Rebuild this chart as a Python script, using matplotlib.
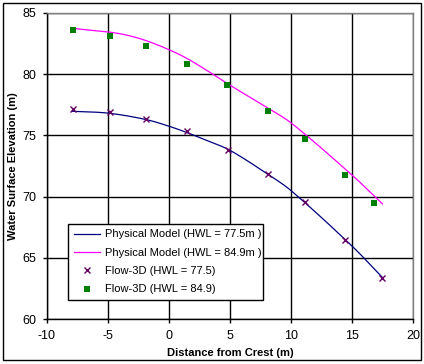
import numpy as np
import matplotlib
matplotlib.use("Agg")
import matplotlib.pyplot as plt
from matplotlib.patches import Rectangle

plt.rcParams['font.family'] = ['Liberation Sans', 'DejaVu Sans']

# Physical model curves
phys_x_775 = [-7.96, -5.0, -1.9, 0.0, 1.5, 3.06, 5.0, 8.14, 10.05, 15.0, 17.48]
phys_775 = [76.97, 76.82, 76.30, 75.75, 75.22, 74.6, 73.78, 71.8, 70.45, 65.96, 63.41]
phys_x_849 = [-7.96, -4.97, -3.5, -1.89, 0.0, 1.45, 3.36, 5.0, 8.14, 10.05, 15.0, 17.5]
phys_849 = [83.75, 83.45, 83.2, 82.75, 82.0, 81.3, 80.15, 79.1, 77.21, 75.99, 71.76, 69.4]

# Flow-3D points
f3d_x_775 = [-7.87, -4.84, -1.89, 1.48, 4.84, 8.11, 11.15, 14.43, 17.46]
f3d_y_775 = [77.16, 76.91, 76.34, 75.36, 73.81, 71.85, 69.56, 66.45, 63.35]
f3d_x_849 = [-7.87, -4.84, -1.89, 1.48, 4.75, 8.11, 11.15, 14.43, 16.8]
f3d_y_849 = [83.61, 83.12, 82.30, 80.83, 79.12, 77.0, 74.71, 71.76, 69.48]

labels = ["Physical Model (HWL = 77.5m )", "Physical Model (HWL = 84.9m )",
          "Flow-3D (HWL = 77.5)", "Flow-3D (HWL = 84.9)"]
xticks = [-10, -5, 0, 5, 10, 15, 20]
yticks = [60, 65, 70, 75, 80, 85]


def smooth(x, y, n=30):
    # cubic Hermite rendering of the line through the read points (x-parameterised)
    x = np.asarray(x, float); y = np.asarray(y, float)
    m = np.empty_like(y)
    m[1:-1] = (y[2:] - y[:-2]) / (x[2:] - x[:-2])
    m[0] = (y[1] - y[0]) / (x[1] - x[0])
    m[-1] = (y[-1] - y[-2]) / (x[-1] - x[-2])
    xs, ys = [], []
    for i in range(len(x) - 1):
        h = x[i + 1] - x[i]
        t = np.linspace(0, 1, n, endpoint=False)
        h00 = 2 * t**3 - 3 * t**2 + 1
        h10 = t**3 - 2 * t**2 + t
        h01 = -2 * t**3 + 3 * t**2
        h11 = t**3 - t**2
        xs.append(x[i] + t * h)
        ys.append(h00 * y[i] + h10 * h * m[i] + h01 * y[i + 1] + h11 * h * m[i + 1])
    xs.append([x[-1]]); ys.append([y[-1]])
    return np.concatenate(xs), np.concatenate(ys)


fig = plt.figure(figsize=(4.24, 3.64), dpi=100)
ax = fig.add_axes([47 / 424, 1 - 319 / 364, 366 / 424, 306 / 364])

sx, sy = smooth(phys_x_775, phys_775)
l1, = ax.plot(sx, sy, color='#000080', lw=0.9, label=labels[0], zorder=3)
sx, sy = smooth(phys_x_849, phys_849)
l2, = ax.plot(sx, sy, color='#FF00FF', lw=0.9, label=labels[1], zorder=3)
l3, = ax.plot(f3d_x_775, f3d_y_775, ls='none', marker='x', ms=4.5, mew=1.0,
              color='#660066', label=labels[2], zorder=4)
l4, = ax.plot(f3d_x_849, f3d_y_849, ls='none', marker='s', ms=5, mew=0,
              color='#007F00', label=labels[3], zorder=4)

ax.set_xlim(-10, 20)
ax.set_ylim(60, 85)
ax.set_xticks(xticks)
ax.set_yticks(yticks)
ax.set_xticklabels([str(v) for v in xticks])
ax.set_yticklabels([str(v) for v in yticks])
ax.grid(True, color='black', lw=1.0, zorder=0)
ax.set_axisbelow(True)
for s in ['top', 'right']:
    ax.spines[s].set_color('#808080')
    ax.spines[s].set_linewidth(1.0)
for s in ['left', 'bottom']:
    ax.spines[s].set_color('black')
    ax.spines[s].set_linewidth(1.0)
ax.tick_params(direction='out', length=3, width=1, labelsize=9, pad=5, colors='black')

ax.set_xlabel("Distance from Crest (m)", fontsize=8, fontweight='bold', labelpad=4)
ax.set_ylabel("Water Surface Elevation (m)", fontsize=8, fontweight='bold', labelpad=3)

leg = ax.legend(handles=[l1, l2, l3, l4], loc='lower left',
                bbox_to_anchor=(68 / 424, 1 - 300 / 364, 195 / 424, 75 / 364),
                bbox_transform=fig.transFigure, mode='expand',
                fontsize=8, frameon=True, fancybox=False, framealpha=1,
                edgecolor='black', borderpad=0.5, labelspacing=0.75,
                handlelength=2.4, handletextpad=0.4, borderaxespad=0)
leg.get_frame().set_linewidth(1.0)

fig.patches.append(Rectangle((3 / 424, 4 / 364), 418 / 424, 357 / 364,
                             transform=fig.transFigure, fill=False,
                             edgecolor='black', lw=1.0))

fig.savefig("out.png", dpi=100)
